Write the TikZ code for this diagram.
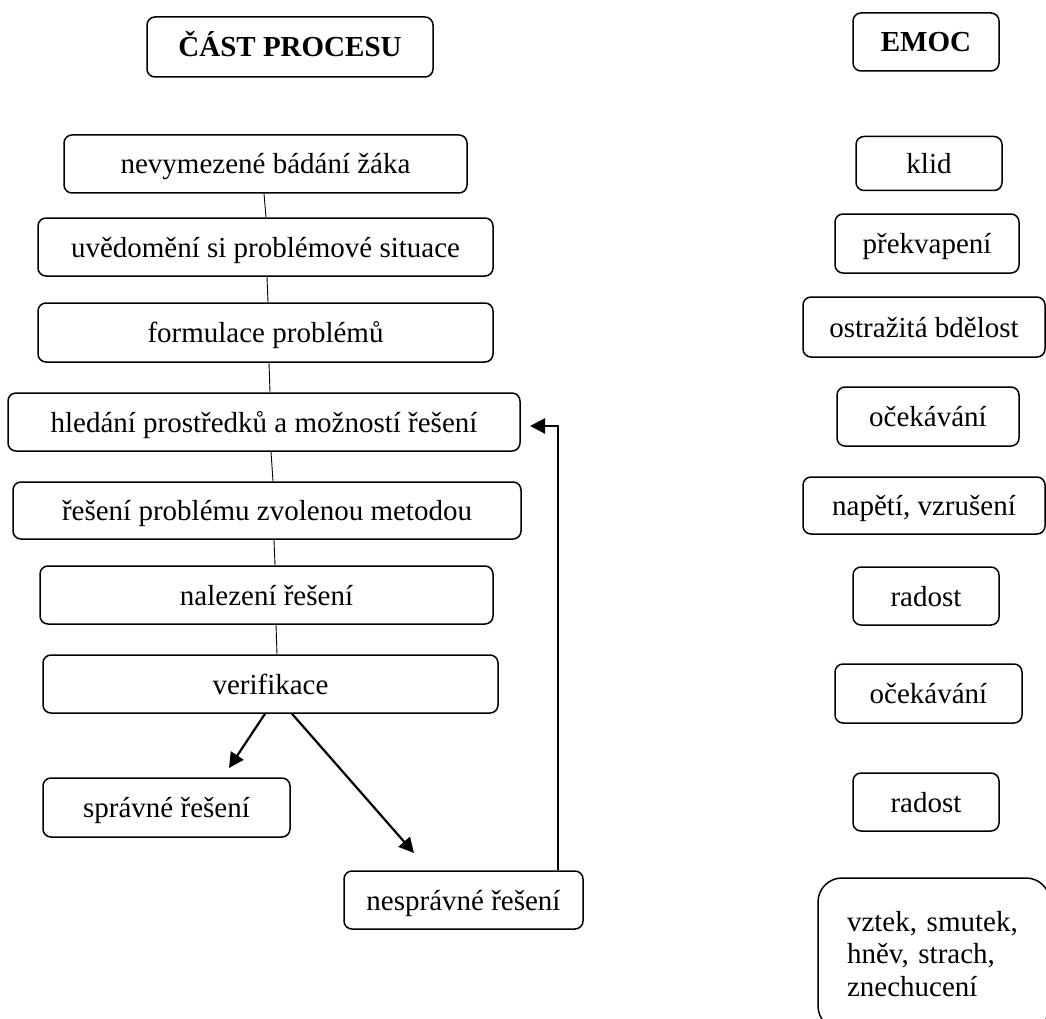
\documentclass[tikz,border=0pt]{standalone}
\usepackage{fontspec}
\setmainfont{Liberation Serif}
\usetikzlibrary{arrows.meta}
\begin{document}
\begin{tikzpicture}[x=1pt,y=-1pt,
  box/.style={draw, line width=1.5pt, rounded corners=8pt, inner sep=0pt,
    font=\fontsize{29}{33}\selectfont, text height=21pt, text depth=1pt},
  hbox/.style={box, font=\fontsize{29}{33}\selectfont\bfseries},
  thin/.style={line width=0.9pt},
  arr/.style={line width=2.2pt, -{Triangle[length=15pt,width=15pt]}}
]
\useasboundingbox (0,0) rectangle (1046,1019);
% headers
\node[hbox, minimum width=286pt, minimum height=60pt] (t1) at (290,47) {ČÁST PROCESU};
\node[hbox, minimum width=146pt, minimum height=58pt] (t2) at (926,42) {EMOC};
% process steps
\node[box, minimum width=403pt, minimum height=58pt] (n1) at (265.5,164) {nevymezené bádání žáka};
\node[box, minimum width=455pt, minimum height=58pt] (n2) at (265.5,247) {uvědomění si problémové situace};
\node[box, minimum width=455pt, minimum height=59pt] (n3) at (265.5,332.5) {formulace problémů};
\node[box, minimum width=512pt, minimum height=58pt] (n4) at (264,422) {hledání prostředků a možností řešení};
\node[box, minimum width=508pt, minimum height=57pt] (n5) at (267,510.5) {řešení problému zvolenou metodou};
\node[box, minimum width=453pt, minimum height=58pt] (n6) at (266.5,595) {nalezení řešení};
\node[box, minimum width=455pt, minimum height=58pt] (n7) at (270.5,684) {verifikace};
\node[box, minimum width=247pt, minimum height=59pt] (n8) at (166.5,807.5) {správné řešení};
\node[box, minimum width=239pt, minimum height=58pt] (n9) at (463.5,900) {nesprávné řešení};
% emotions
\node[box, minimum width=146pt, minimum height=54pt] (e1) at (929,163.5) {klid};
\node[box, minimum width=184pt, minimum height=59pt] (e2) at (927,243.5) {překvapení};
\node[box, minimum width=242pt, minimum height=60pt] (e3) at (924,327) {ostražitá bdělost};
\node[box, minimum width=182pt, minimum height=59pt] (e4) at (928,416.5) {očekávání};
\node[box, minimum width=242pt, minimum height=57pt] (e5) at (924,505.5) {napětí, vzrušení};
\node[box, minimum width=146pt, minimum height=58pt] (e6) at (926,596) {radost};
\node[box, minimum width=187pt, minimum height=59pt] (e7) at (928.5,693.5) {očekávání};
\node[box, minimum width=146pt, minimum height=58pt] (e8) at (926,802) {radost};
\node[draw, line width=1.5pt, rounded corners=24pt, inner xsep=29pt, inner ysep=0pt,
  minimum width=232pt, minimum height=152pt, text width=174pt, align=left,
  font=\fontsize{29}{32.5}\selectfont] (e9) at (934,954)
  {vztek, smutek,\\ hněv, strach,\\ znechucení};
% thin connectors
\draw[thin] ([xshift=-1.5pt]n1.south) -- ([xshift=0.5pt]n2.north);
\draw[thin] ([xshift=1.5pt]n2.south) -- ([xshift=2.5pt]n3.north);
\draw[thin] ([xshift=3.5pt]n3.south) -- ([xshift=6pt]n4.north);
\draw[thin] ([xshift=7pt]n4.south) -- ([xshift=6pt]n5.north);
\draw[thin] ([xshift=7pt]n5.south) -- ([xshift=8.5pt]n6.north);
\draw[thin] ([xshift=9.5pt]n6.south) -- ([xshift=6.5pt]n7.north);
% arrows
\coordinate (a1) at (229,768);
\coordinate (a2) at (414,853);
\coordinate (a3) at (530,426);
\draw[arr] ([xshift=-5.5pt]n7.south) -- (a1);
\draw[arr] ([xshift=21.5pt]n7.south) -- (a2);
\draw[arr] ([xshift=94.5pt]n9.north) |- (a3);
\end{tikzpicture}
\end{document}
